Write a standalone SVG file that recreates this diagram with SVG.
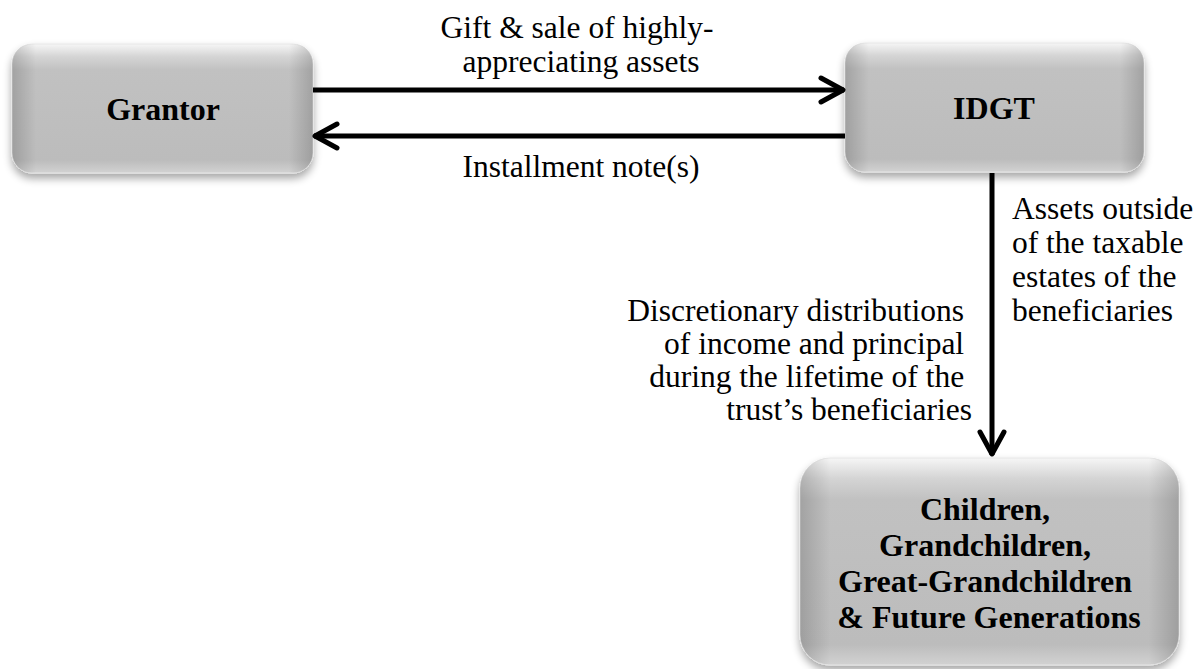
<svg xmlns="http://www.w3.org/2000/svg" width="1204" height="669" viewBox="0 0 1204 669">
<style>
.lbl{font-family:"Liberation Serif","Times New Roman",serif;font-size:31.5px;fill:#000}
.bold{font-family:"Liberation Serif","Times New Roman",serif;font-size:32px;font-weight:bold;fill:#000}
.conn{stroke:#000;stroke-width:5;fill:none}
</style>
<defs>
<linearGradient id="vg" x1="0" y1="0" x2="0" y2="1">
<stop offset="0" stop-color="#f6f6f6"/>
<stop offset="0.1" stop-color="#d4d4d4"/>
<stop offset="0.2" stop-color="#c1c1c1"/>
<stop offset="0.9" stop-color="#bcbcbc"/>
<stop offset="1" stop-color="#d2d2d2"/>
</linearGradient>
<linearGradient id="hg" x1="0" y1="0" x2="1" y2="0">
<stop offset="0" stop-color="#000" stop-opacity="0.16"/>
<stop offset="0.08" stop-color="#000" stop-opacity="0"/>
<stop offset="0.92" stop-color="#000" stop-opacity="0"/>
<stop offset="1" stop-color="#000" stop-opacity="0.16"/>
</linearGradient>
<filter id="sh" x="-10%" y="-10%" width="120%" height="130%">
<feGaussianBlur in="SourceAlpha" stdDeviation="4"/>
<feOffset dx="0" dy="5" result="b"/>
<feComponentTransfer><feFuncA type="linear" slope="0.35"/></feComponentTransfer>
<feMerge><feMergeNode/><feMergeNode in="SourceGraphic"/></feMerge>
</filter>
<marker id="arr" markerUnits="userSpaceOnUse" markerWidth="40" markerHeight="40" viewBox="-30 -20 40 40" refX="0" refY="0" orient="auto">
<path d="M-23,-12 L-1,0 L-23,12" fill="none" stroke="#000" stroke-width="5" stroke-linecap="round" stroke-linejoin="round"/>
</marker>
</defs>

<g id="grantor">
<rect x="12" y="44" width="301" height="129" rx="20" fill="url(#vg)" stroke="#e6e6e6" stroke-width="1" filter="url(#sh)"/>
<rect x="12" y="44" width="301" height="129" rx="20" fill="url(#hg)"/>
<text class="bold" x="163" y="120" text-anchor="middle">Grantor</text>
</g>

<g id="idgt">
<rect x="845" y="43" width="299" height="129" rx="20" fill="url(#vg)" stroke="#e6e6e6" stroke-width="1" filter="url(#sh)"/>
<rect x="845" y="43" width="299" height="129" rx="20" fill="url(#hg)"/>
<text class="bold" x="994" y="119" text-anchor="middle">IDGT</text>
</g>

<g id="beneficiaries">
<rect x="800" y="458" width="379" height="207" rx="30" fill="url(#vg)" stroke="#e6e6e6" stroke-width="1" filter="url(#sh)"/>
<rect x="800" y="458" width="379" height="207" rx="30" fill="url(#hg)"/>
<text class="bold" text-anchor="middle">
<tspan x="989" y="520">Children,</tspan>
<tspan x="989" y="556">Grandchildren,</tspan>
<tspan x="989" y="592">Great-Grandchildren</tspan>
<tspan x="989" y="628">&amp; Future Generations</tspan>
</text>
</g>

<g id="connectors">
<line class="conn" x1="313" y1="90" x2="844" y2="90" marker-end="url(#arr)"/>
<line class="conn" x1="845" y1="136" x2="314" y2="136" marker-end="url(#arr)"/>
<line class="conn" x1="992" y1="173" x2="992" y2="455" marker-end="url(#arr)"/>
<text class="lbl" text-anchor="middle">
<tspan x="581" y="38">Gift &amp; sale of highly-</tspan>
<tspan x="581" y="72">appreciating assets</tspan>
</text>
<text class="lbl" x="581" y="177" text-anchor="middle">Installment note(s)</text>
<text class="lbl">
<tspan x="1012" y="219">Assets outside</tspan>
<tspan x="1012" y="253">of the taxable</tspan>
<tspan x="1012" y="287">estates of the</tspan>
<tspan x="1012" y="321">beneficiaries</tspan>
</text>
<text class="lbl" text-anchor="end">
<tspan x="972" y="321">Discretionary distributions</tspan>
<tspan x="972" y="354">of income and principal</tspan>
<tspan x="972" y="387">during the lifetime of the</tspan>
<tspan x="972" y="420">trust’s beneficiaries</tspan>
</text>
</g>
</svg>
